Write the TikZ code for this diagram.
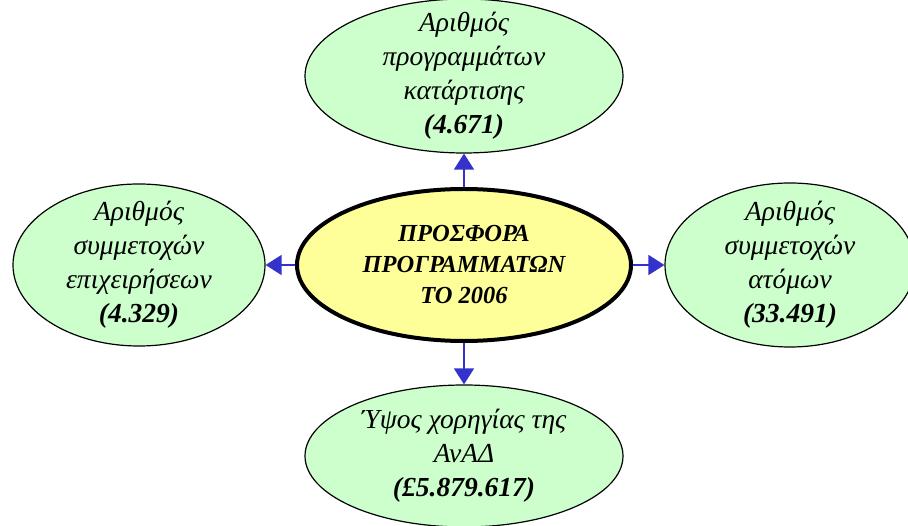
\documentclass[tikz,border=0pt]{standalone}
\usepackage{fontspec}
\setmainfont{Liberation Serif}
\usetikzlibrary{shapes.geometric,arrows.meta}

\definecolor{leafgreen}{HTML}{CCFFCC}
\definecolor{hubyellow}{HTML}{FFFF99}
\definecolor{arrowblue}{HTML}{3333CC}

\begin{document}
\begin{tikzpicture}[x=1pt,y=-1pt]

      \useasboundingbox (0,0) rectangle (908,526);

      \begin{scope}[every node/.style={ellipse,draw,fill=leafgreen,line width=1.2pt,
          inner xsep=-10pt,inner ysep=-20pt,align=center,
          font=\fontsize{27.5}{34}\selectfont\itshape}]
        \node[minimum width=318pt,minimum height=154pt] (prog) at (464,76)
          {Αριθμός\\προγραμμάτων\\κατάρτισης\\\textbf{(4.671)}};
        \node[minimum width=252pt,minimum height=162pt] (firms) at (139,265)
          {Αριθμός\\συμμετοχών\\επιχειρήσεων\\\textbf{(4.329)}};
        \node[minimum width=250pt,minimum height=164pt] (people) at (790,265)
          {Αριθμός\\συμμετοχών\\ατόμων\\\textbf{(33.491)}};
        \node[minimum width=318pt,minimum height=142pt] (funds) at (464,456)
          {Ύψος χορηγίας της\\ΑνΑΔ\\\textbf{(£5.879.617)}};
      \end{scope}

      \node[ellipse,draw,fill=hubyellow,line width=4pt,minimum width=334pt,
        minimum height=152pt,inner sep=0pt,align=center,
        font=\fontsize{24.5}{31}\selectfont\bfseries\itshape] (hub) at (464,265)
        {ΠΡΟΣΦΟΡΑ\\ΠΡΟΓΡΑΜΜΑΤΩΝ\\ΤΟ 2006};

      \begin{scope}[every edge/.style={draw=arrowblue,line width=1.6pt,
          -{Triangle[width=20pt,length=16pt]}}]
        \path (hub) edge (prog);
        \path (hub) edge (firms);
        \path (hub) edge (people);
        \path (hub) edge (funds);
      \end{scope}

    \end{tikzpicture}
\end{document}
